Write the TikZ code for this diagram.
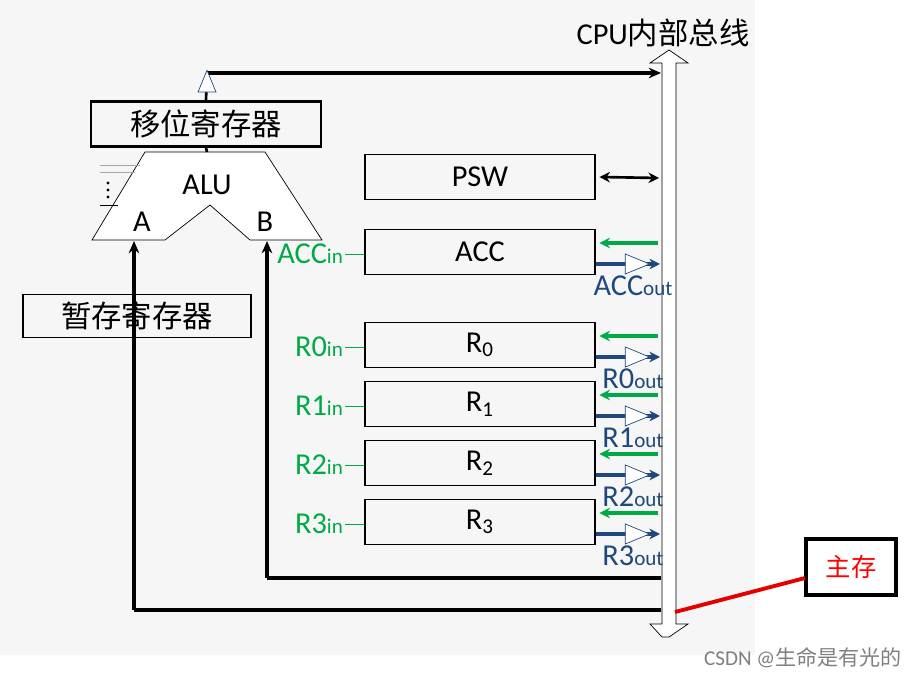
\documentclass[tikz,border=0pt]{standalone}
\usepackage{fontspec}
\setmainfont{Carlito}
\newfontfamily\cjk{Noto Sans CJK SC}
\usetikzlibrary{arrows.meta,positioning,shapes.geometric}
\definecolor{ingreen}{RGB}{0,170,70}
\definecolor{outblue}{RGB}{31,73,125}
\tikzset{
  reg/.style={draw,line width=1.1pt,minimum width=4.6cm,minimum height=0.9cm,inner sep=0pt,font=\LARGE},
  inarr/.style={ingreen,line width=1.8pt,-{Stealth[length=6pt,width=6pt]}},
  outarr/.style={outblue,line width=1.8pt,-{Stealth[length=6pt,width=6pt]}},
  buf/.style={draw=outblue,fill=white,isosceles triangle,minimum height=0.46cm,minimum width=0.4cm,inner sep=0pt},
  busline/.style={line width=1.8pt,-{Stealth[length=7pt,width=6pt]}},
}
\begin{document}
\begin{tikzpicture}[x=0.02cm,y=-0.02cm]
\useasboundingbox (0,0) rectangle (913,678);
\fill[white] (0,0) rectangle (913,678);
\fill[gray!7] (0,0) rectangle (755,655);
% bus
\draw[fill=white] (662,637) -- (650,624) -- (662,624) -- (662,63) -- (650,63) -- (669,50)
  -- (688,63) -- (676,63) -- (676,624) -- (688,624) -- (669,637) -- cycle;
\node[font=\LARGE] (bus) at (663,33) {CPU{\cjk 内部总线}};
% shifter and ALU
\node[draw,line width=1.5pt,minimum width=4.6cm,minimum height=0.9cm,font=\LARGE\cjk] (shift) at (206,124) {移位寄存器};
\draw[fill=white] (145,152) -- (265,152) -- (322,240) -- (250,240) -- (210,205) -- (165,240) -- (92,240) -- cycle;
\node[font=\LARGE] (alu) at (207,185) {ALU};
\node[font=\LARGE] (ina) at (142,222) {A};
\node[font=\LARGE] (inb) at (265,222) {B};
\draw[gray!70] (100,165) -- (140,165) (100,172) -- (135,172);
\foreach \d in {183,190,197} \fill (108,\d) circle (0.9pt);
\draw (100,205) -- (118,205);
\coordinate (aluin) at (207,152);
\coordinate (aluA) at (134,241);
\coordinate (aluB) at (267,241);
\draw[line width=1.5pt] (shift.south) -- (aluin);
\coordinate (topturn) at (207,73);
\coordinate (busin) at (661,73);
\draw[line width=1.5pt] (shift.north) -- (topturn);
\draw[busline] (topturn) -- (busin);
\node[draw=outblue,fill=white,isosceles triangle,shape border rotate=90,minimum height=0.3cm,minimum width=0.36cm,inner sep=0pt] (up) at (207,86) {};
% temp register
\node[draw,line width=1.1pt,minimum width=4.55cm,minimum height=0.86cm,font=\LARGE\cjk] (temp) at (137,316) {暂存寄存器};
\coordinate (busA) at (661,610);
\coordinate (busB) at (661,578);
\coordinate (turnA) at (134,610);
\coordinate (turnB) at (267,578);
\draw[line width=1.8pt] (busA) -- (turnA);
\draw[busline] (turnA) -- (aluA);
\draw[line width=1.8pt] (busB) -- (turnB);
\draw[busline] (turnB) -- (aluB);
% PSW
\node[reg] (psw) at (480,177) {PSW};
\coordinate (pswbus) at (659,178);
\draw[line width=1.5pt,{Stealth[length=6pt,width=6pt]}-{Stealth[length=6pt,width=6pt]}] ([xshift=2pt]psw.east) -- (pswbus);
% registers
\foreach \n/\txt/\y/\lab in {acc/ACC/252/ACC,r0/{$\mathrm{R_0}$}/345/R0,r1/{$\mathrm{R_1}$}/404/R1,r2/{$\mathrm{R_2}$}/463/R2,r3/{$\mathrm{R_3}$}/522/R3}{
  \node[reg] (\n) at (480,\y) {\txt};
  \coordinate (\n gi) at (658,\y-9);
  \coordinate (\n bo) at (660,\y+12);
  \draw[inarr] (\n gi) -- ([xshift=2pt]\n.east |- \n gi);
  \draw[outarr] (\n.east |- \n bo) -- (\n bo);
  \node[buf] (\n buf) at (632,\y+12) {};
  \node[outblue,anchor=north,inner sep=1pt] (\n out) at (633,\y+22) {{\LARGE\lab}{\large out}};
  \node[ingreen,anchor=east,inner sep=1pt] (\n in) at (345,\y+2) {{\LARGE\lab}{\large in}};
  \draw[ingreen,thin] (\n in.east) -- (\n.west |- \n in.east);
}
% main memory
\node[draw,line width=2.6pt,minimum width=1.8cm,minimum height=1.12cm,text=red,font=\Large\cjk] (mem) at (851,567) {主存};
\coordinate (busmem) at (675,612);
\coordinate (memin) at (805,578);
\draw[red!90!black,line width=2.2pt] (busmem) -- (memin);
\node[gray,font=\large] (csdn) at (803,658) {CSDN @{\cjk 生命是有光的}};
\end{tikzpicture}
\end{document}
